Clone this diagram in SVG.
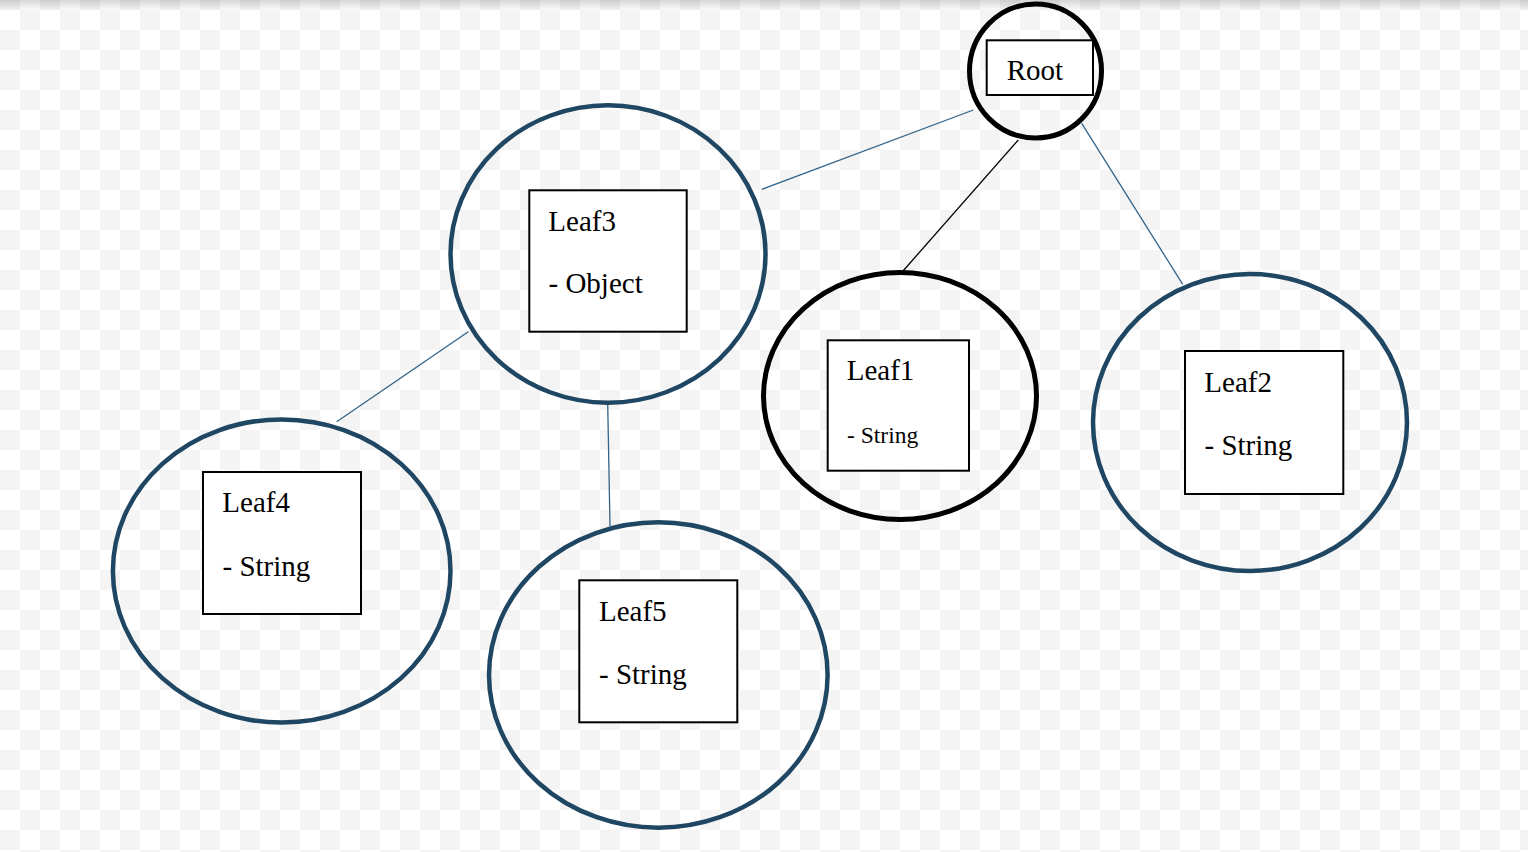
<svg xmlns="http://www.w3.org/2000/svg" width="1528" height="852" viewBox="0 0 1528 852">
<defs>
<pattern id="checker" x="0" y="10" width="40" height="40" patternUnits="userSpaceOnUse">
<rect x="0" y="0" width="40" height="40" fill="#ffffff"/>
<rect x="20" y="0" width="20" height="20" fill="#f4f4f4"/>
<rect x="0" y="20" width="20" height="20" fill="#f4f4f4"/>
</pattern>
<linearGradient id="topshade" x1="0" y1="0" x2="0" y2="1">
<stop offset="0" stop-color="#000" stop-opacity="0.16"/>
<stop offset="1" stop-color="#000" stop-opacity="0"/>
</linearGradient>
</defs>
<style>
.ring{fill:none;stroke:#1f4662;stroke-width:4.5}
.ringk{fill:none;stroke:#000;stroke-width:5}
.box{fill:#fff;stroke:#000;stroke-width:2}
.t{font-family:"Liberation Serif","Times New Roman",serif;font-size:29px;fill:#000}
.ts{font-family:"Liberation Serif","Times New Roman",serif;font-size:23.5px;fill:#000}
.edge{stroke:#336489;stroke-width:1.3;fill:none}
.edgek{stroke:#000;stroke-width:1.3;fill:none}
</style>
<rect x="0" y="0" width="1528" height="852" fill="url(#checker)"/>
<rect x="0" y="0" width="1528" height="11" fill="url(#topshade)"/>
<g id="connectors">
<line class="edge" x1="973.3" y1="110" x2="761.7" y2="189.3"/>
<line class="edgek" x1="1018.3" y1="140" x2="903" y2="271"/>
<line class="edge" x1="1081.7" y1="123.3" x2="1182.7" y2="284.3"/>
<line class="edge" x1="468.3" y1="331.7" x2="336.7" y2="421.7"/>
<line class="edge" x1="607.7" y1="403" x2="610" y2="526"/>
</g>
<g id="root">
<ellipse class="ringk" cx="1035.5" cy="71" rx="66" ry="67"/>
<rect class="box" x="986.7" y="40.3" width="106.3" height="54.7"/>
<text class="t" x="1006.7" y="80">Root</text>
</g>
<g id="leaf3">
<ellipse class="ring" cx="608" cy="254" rx="157.5" ry="148.7"/>
<rect class="box" x="529.3" y="190.3" width="157.4" height="141.4"/>
<text class="t" x="548.3" y="230.7">Leaf3</text>
<text class="t" x="548.5" y="293.3">- Object</text>
</g>
<g id="leaf1">
<ellipse class="ringk" cx="900" cy="396" rx="136.5" ry="123.5"/>
<rect class="box" x="827.7" y="340.3" width="141.3" height="130.4"/>
<text class="t" x="846.7" y="380">Leaf1</text>
<text class="ts" x="847" y="443.3">- String</text>
</g>
<g id="leaf2">
<ellipse class="ring" cx="1250" cy="422.5" rx="157" ry="148.5"/>
<rect class="box" x="1185" y="351" width="158.3" height="143"/>
<text class="t" x="1204.3" y="391.7">Leaf2</text>
<text class="t" x="1204.5" y="455">- String</text>
</g>
<g id="leaf4">
<ellipse class="ring" cx="281.7" cy="571" rx="168.8" ry="151.6"/>
<rect class="box" x="203" y="472" width="158" height="142"/>
<text class="t" x="222.3" y="511.7">Leaf4</text>
<text class="t" x="222.5" y="576">- String</text>
</g>
<g id="leaf5">
<ellipse class="ring" cx="658.3" cy="675" rx="169.3" ry="152.7"/>
<rect class="box" x="579.3" y="580.3" width="158" height="142"/>
<text class="t" x="599" y="620.7">Leaf5</text>
<text class="t" x="599" y="684">- String</text>
</g>
</svg>
